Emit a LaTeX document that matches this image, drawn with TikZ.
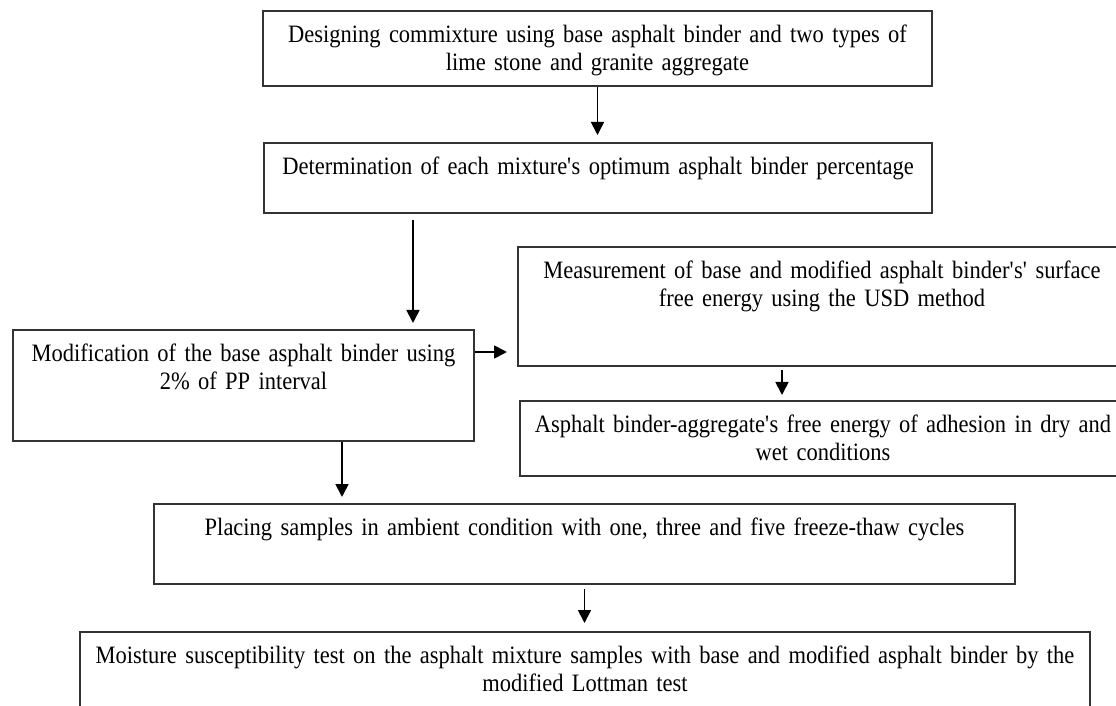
\documentclass[tikz,border=0pt]{standalone}
\usepackage{fontspec}
\setmainfont{Liberation Serif}[FakeStretch=0.9]
\usetikzlibrary{arrows.meta}

\begin{document}
\begin{tikzpicture}[x=0.5pt, y=-0.5pt, line width=0.9pt,
		stage/.style = {draw=black!80, line width=1pt, anchor=north west, align=center,
			inner sep=0pt, text height=15.8pt, font=\fontsize{12.5}{13.8}\selectfont},
		>={Triangle[length=6.5pt, width=6.5pt]}]
		\useasboundingbox (0,0) rectangle (1116,706);
		\node[stage, text width=334.5pt, text depth=21.7pt] (1) at (262,10) {Designing commixture using base asphalt binder and two types of\\lime stone and granite aggregate};
		\node[stage, text width=334pt, text depth=19.2pt] (2) at (263,142) {Determination of each mixture\textquotesingle s optimum asphalt binder percentage};
		\node[stage, text width=230.5pt, text depth=39.7pt] (3) at (12,329) {Modification of the base asphalt binder using\\2\% of PP interval};
		\node[stage, text width=304pt, text depth=43.7pt] (4) at (517,246) {Measurement of base and modified asphalt binder\textquotesingle s\textquotesingle{} surface\\free energy using the USD method};
		\node[stage, text width=303pt, text depth=21.7pt] (5) at (519,400) {Asphalt binder-aggregate\textquotesingle s free energy of adhesion in dry and\\wet conditions};
		\node[stage, text width=430.5pt, text depth=24.2pt] (6) at (153,503) {Placing samples in ambient condition with one, three and five freeze-thaw cycles};
		\node[stage, text width=505pt, text depth=49.2pt] (7) at (79,631) {Moisture susceptibility test on the asphalt mixture samples with base and modified asphalt binder by the\\modified Lottman test};
		\coordinate (a2) at ([xshift=75pt]2.south west);
		\coordinate (a3) at ([yshift=-11.5pt]3.north east);
		\coordinate (a4) at ([xshift=132.5pt]4.south west);
		\coordinate (a5) at ([xshift=165pt]3.south west);
		\draw[->, shorten >=3.5pt] (1.south) -- (1.south |- 2.north);
		\draw[->, shorten <=3pt, shorten >=3pt] (a2) -- (a2 |- 3.north);
		\draw[->, shorten >=5pt] (a3) -- (a3 -| 4.west);
		\draw[->, shorten <=1.5pt, shorten >=2.5pt] (a4) -- (a4 |- 5.north);
		\draw[->, shorten >=3pt] (a5) -- (a5 |- 6.north);
		\draw[->, shorten <=2pt, shorten >=4pt] (6.south) -- (6.south |- 7.north);
	\end{tikzpicture}
\end{document}
